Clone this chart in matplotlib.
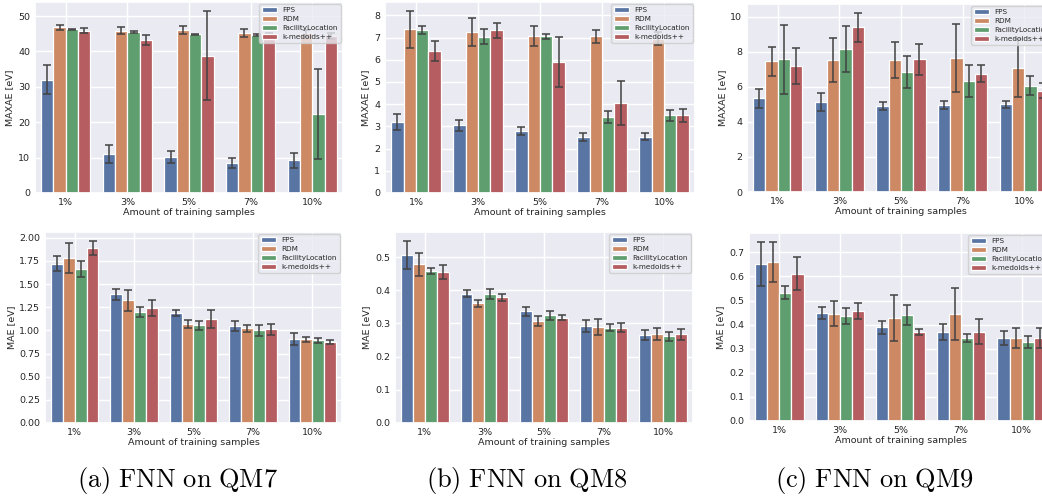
import numpy as np
import matplotlib
matplotlib.use("Agg")
from matplotlib import pyplot as plt
import seaborn as sns

sns.set_theme(style="darkgrid")
plt.rcParams['font.family'] = ['DejaVu Sans']

methods = ["FPS", "RDM", "FacilityLocation", "k-medoids++"]
samples = ["1%", "3%", "5%", "7%", "10%"]

# MAXAE, rows = methods, cols = samples
qm7_maxae = [[32.0, 11.1, 10.1, 8.4, 9.2],
             [46.8, 45.9, 46.1, 45.3, 45.1],
             [46.2, 45.4, 44.9, 44.7, 22.3],
             [45.9, 43.2, 38.8, 44.4, 44.4]]
qm7_maxae_err = [[4.1, 2.6, 1.7, 1.4, 2.1],
                 [0.75, 1.1, 1.05, 1.1, 0.9],
                 [0.25, 0.25, 0.15, 0.2, 12.7],
                 [0.75, 1.5, 12.6, 0.9, 0.9]]

qm8_maxae = [[3.20, 3.04, 2.78, 2.53, 2.54],
             [7.37, 7.25, 7.05, 7.05, 6.95],
             [7.32, 7.04, 7.05, 3.41, 3.49],
             [6.39, 7.32, 5.89, 4.05, 3.49]]
qm8_maxae_err = [[0.35, 0.25, 0.18, 0.17, 0.16],
                 [0.82, 0.62, 0.45, 0.29, 0.30],
                 [0.18, 0.33, 0.10, 0.28, 0.26],
                 [0.44, 0.34, 1.12, 0.98, 0.31]]

qm9_maxae = [[5.35, 5.14, 4.91, 4.95, 5.01],
             [7.46, 7.55, 7.55, 7.65, 7.11],
             [7.59, 8.16, 6.88, 6.35, 6.06],
             [7.21, 9.41, 7.59, 6.75, 5.79]]
qm9_maxae_err = [[0.55, 0.50, 0.24, 0.23, 0.19],
                 [0.82, 1.25, 1.02, 1.96, 1.66],
                 [1.98, 1.33, 0.91, 0.90, 0.54],
                 [1.04, 0.82, 0.89, 0.48, 0.44]]

# MAE
qm7_mae = [[1.719, 1.388, 1.191, 1.050, 0.910],
           [1.781, 1.324, 1.072, 1.025, 0.903],
           [1.662, 1.198, 1.054, 1.000, 0.892],
           [1.888, 1.241, 1.122, 1.011, 0.874]]
qm7_mae_err = [[0.083, 0.059, 0.033, 0.054, 0.067],
               [0.165, 0.113, 0.045, 0.038, 0.025],
               [0.086, 0.054, 0.047, 0.056, 0.025],
               [0.076, 0.083, 0.097, 0.063, 0.025]]

qm8_mae = [[0.506, 0.390, 0.336, 0.292, 0.264],
           [0.478, 0.361, 0.307, 0.289, 0.268],
           [0.458, 0.389, 0.324, 0.287, 0.261],
           [0.455, 0.379, 0.317, 0.287, 0.267]]
qm8_mae_err = [[0.042, 0.011, 0.014, 0.017, 0.015],
               [0.035, 0.011, 0.015, 0.025, 0.018],
               [0.008, 0.015, 0.014, 0.010, 0.014],
               [0.022, 0.010, 0.008, 0.013, 0.016]]

qm9_mae = [[0.651, 0.448, 0.389, 0.370, 0.344],
           [0.659, 0.445, 0.427, 0.445, 0.344],
           [0.533, 0.435, 0.440, 0.345, 0.327],
           [0.612, 0.456, 0.370, 0.370, 0.344]]
qm9_mae_err = [[0.092, 0.023, 0.028, 0.032, 0.029],
               [0.084, 0.052, 0.094, 0.107, 0.042],
               [0.027, 0.032, 0.042, 0.017, 0.025],
               [0.067, 0.034, 0.013, 0.052, 0.043]]

captions = ["(a) FNN on QM7", "(b) FNN on QM8", "(c) FNN on QM9"]

colors = [sns.desaturate(c, 0.75) for c in sns.color_palette("deep", 4)]


def draw_panel(ax, means, errs, ylabel):
    x = np.arange(len(samples))
    w = 0.2
    for i, m in enumerate(methods):
        pos = x - 0.3 + i * w
        ax.bar(pos, means[i], w, color=colors[i], edgecolor="white",
               linewidth=0.9, label=m)
        ax.errorbar(pos, means[i], yerr=errs[i], fmt="none", ecolor="#424242",
                    elinewidth=1.1, capsize=2.6, capthick=1.1)
    ax.set_xticks(x)
    ax.set_xticklabels(samples)
    ax.set_xlim(-0.5, 4.5)
    # ticks are hidden in darkgrid, so zero length keeps labels close
    ax.tick_params(labelsize=6.8, pad=3.5, length=0)
    ax.set_xlabel("Amount of training samples", fontsize=6.8, labelpad=1)
    ax.set_ylabel(ylabel, fontsize=6.8, labelpad=2.5)
    ax.legend(loc="upper right", fontsize=5.2, borderaxespad=0.3,
              handlelength=2.0, labelspacing=0.4, framealpha=0.8)


fig = plt.figure(figsize=(10.42, 5.0), dpi=100)
W, H = 1042.0, 500.0

# axes boxes in pixels: left, right, top, bottom
boxes_top = [(35, 343, 2, 193), (385, 695, 2, 193), (747, 1055, 4, 192)]
boxes_bot = [(45, 342, 232, 423), (395, 693, 232, 423), (749, 1052, 233, 421)]

tops = [(qm7_maxae, qm7_maxae_err), (qm8_maxae, qm8_maxae_err), (qm9_maxae, qm9_maxae_err)]
bots = [(qm7_mae, qm7_mae_err), (qm8_mae, qm8_mae_err), (qm9_mae, qm9_mae_err)]

for k in range(3):
    l, r, t, b = boxes_top[k]
    ax = fig.add_axes([l / W, 1 - b / H, (r - l) / W, (b - t) / H])
    draw_panel(ax, tops[k][0], tops[k][1], "MAXAE [eV]")
    l, r, t, b = boxes_bot[k]
    ax = fig.add_axes([l / W, 1 - b / H, (r - l) / W, (b - t) / H])
    draw_panel(ax, bots[k][0], bots[k][1], "MAE [eV]")

cap_x = [177, 527, 874]
for k in range(3):
    txt = r"$\mathrm{" + captions[k].replace(" ", r"\ ") + "}$"
    fig.text(cap_x[k] / W, 1 - 481 / H, txt, ha="center", va="center",
             fontsize=19, math_fontfamily="cm", color="black")

fig.savefig("out.png", dpi=100)
